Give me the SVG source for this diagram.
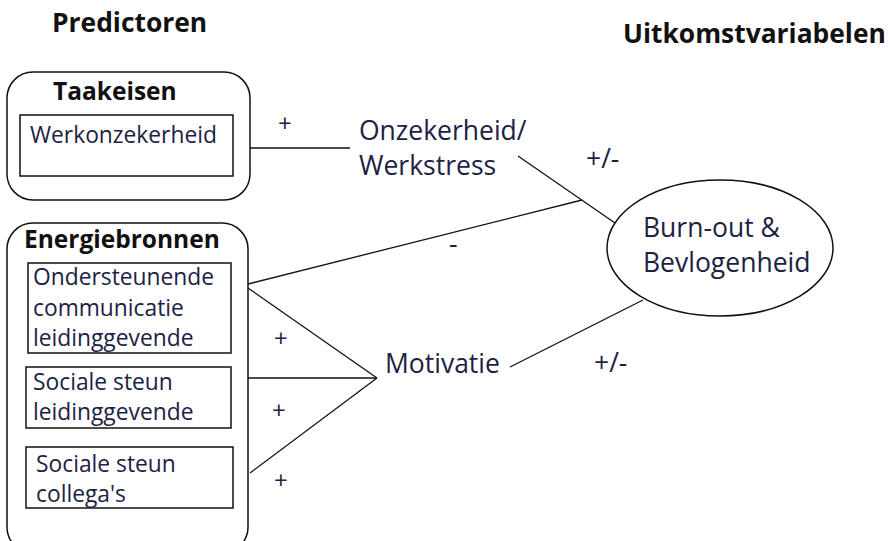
<svg xmlns="http://www.w3.org/2000/svg" width="890" height="541" viewBox="0 0 890 541">
<style>
.t{font-family:"Open Sans","Noto Sans",sans-serif;font-size:22.8px;fill:#1c2244}
.l{font-family:"Open Sans","Noto Sans",sans-serif;font-size:26.5px;fill:#1c2244}
.p{font-family:"Open Sans","Noto Sans",sans-serif;font-size:24px;fill:#1c2244}
.b{font-family:"Open Sans","Noto Sans",sans-serif;font-size:26.4px;font-weight:bold;fill:#111}
.h{font-family:"Open Sans","Noto Sans",sans-serif;font-size:24.5px;font-weight:bold;fill:#111}
.s{fill:none;stroke:#111;stroke-width:1.5}
.c{fill:none;stroke:#111;stroke-width:1.3}
</style>
<rect width="890" height="541" fill="#fff"/>
<text class="b" x="52" y="32">Predictoren</text>
<text class="b" x="623" y="43">Uitkomstvariabelen</text>
<g id="taakeisen">
<rect class="s" x="7" y="72" width="243" height="128" rx="26"/>
<text class="h" x="53" y="100">Taakeisen</text>
<rect class="s" x="20" y="115" width="213" height="61"/>
<text class="t" x="30" y="143">Werkonzekerheid</text>
</g>
<g id="energiebronnen">
<rect class="s" x="7" y="223" width="241" height="330" rx="26"/>
<text class="h" x="24" y="248">Energiebronnen</text>
</g>
<g id="ondersteunende">
<rect class="s" x="28" y="263" width="203" height="90"/>
<text class="t" x="33" y="285">Ondersteunende<tspan x="33" y="316">communicatie</tspan><tspan x="33" y="346">leidinggevende</tspan></text>
</g>
<g id="steun-leiding">
<rect class="s" x="26" y="367" width="205" height="61"/>
<text class="t" x="33" y="390">Sociale steun<tspan x="33" y="420">leidinggevende</tspan></text>
</g>
<g id="steun-collegas">
<rect class="s" x="26" y="447" width="207" height="61"/>
<text class="t" x="36" y="472">Sociale steun<tspan x="36" y="502">collega's</tspan></text>
</g>
<g id="onzekerheid">
<text class="l" x="359" y="140">Onzekerheid/<tspan x="359" y="175">Werkstress</tspan></text>
</g>
<g id="motivatie">
<text class="l" x="385" y="373">Motivatie</text>
</g>
<g id="burnout">
<ellipse class="s" cx="720" cy="248" rx="113" ry="68"/>
<text class="l" x="643" y="237">Burn-out &amp;<tspan x="643" y="272">Bevlogenheid</tspan></text>
</g>
<g id="connectors">
<line class="c" x1="250" y1="148" x2="350" y2="148"/>
<line class="c" x1="518" y1="156" x2="615" y2="223"/>
<line class="c" x1="248" y1="284" x2="582" y2="200"/>
<line class="c" x1="248" y1="288" x2="377" y2="378"/>
<line class="c" x1="248" y1="378" x2="377" y2="378"/>
<line class="c" x1="250" y1="473" x2="377" y2="378"/>
<line class="c" x1="510" y1="367" x2="643" y2="300"/>
<text class="p" x="278" y="132">+</text>
<text class="l" x="586" y="168">+/-</text>
<text class="l" x="449" y="253">-</text>
<text class="p" x="274" y="347">+</text>
<text class="p" x="272" y="419">+</text>
<text class="p" x="274" y="489">+</text>
<text class="l" x="594" y="372">+/-</text>
</g>
</svg>
